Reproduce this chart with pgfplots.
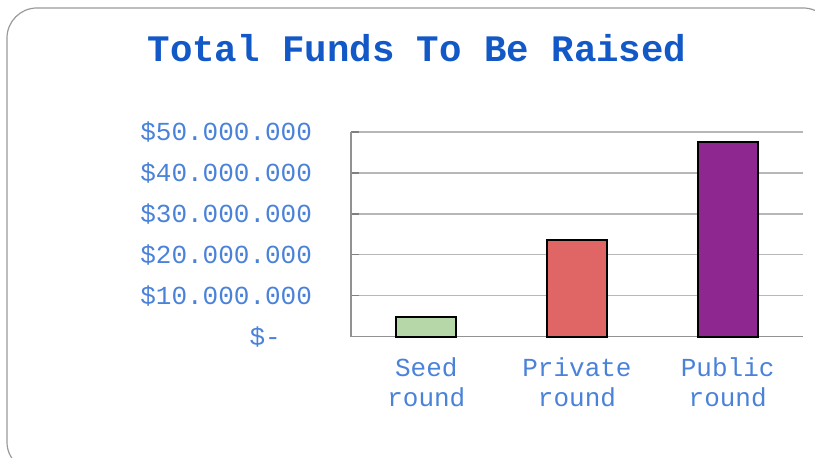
\documentclass[border=0pt]{standalone}
\usepackage{pgfplots}
\pgfplotsset{compat=1.18}
\usepackage{fontspec}
\setmainfont{Liberation Mono}
\definecolor{titleblue}{HTML}{1258C6}
\definecolor{tickblue}{HTML}{4A82DA}
\definecolor{seedc}{HTML}{B6D7A8}
\definecolor{privc}{HTML}{E06666}
\definecolor{pubc}{HTML}{8E278F}
\definecolor{gridc}{HTML}{B7B7B7}
\definecolor{framec}{HTML}{9A9A9A}
\begin{document}
\begin{tikzpicture}
\clip (0,0) rectangle (407.5pt,229pt);
\useasboundingbox (0,0) rectangle (407.5pt,229pt);
\draw[framec, line width=0.6pt, rounded corners=15pt] (3.5pt,225pt) rectangle (416.5pt,-7pt);
\node[font=\fontsize{18.7}{20}\selectfont\bfseries, text=titleblue] at (208.5pt,205pt) {Total Funds To Be Raised};
\begin{axis}[
  at={(175.5pt,60.65pt)}, anchor=south west,
  scale only axis, width=226pt, height=102.3pt,
  xmin=-0.5, xmax=2.5, ymin=0, ymax=50000000,
  axis x line*=bottom, axis y line*=left,
  axis line style={draw=gridc!80!black, line width=0.6pt},
  xtick={0,1,2},
  xticklabels={{Seed\\round},{Private\\round},{Public\\round}},
  ytick={0,10000000,20000000,30000000,40000000,50000000},
  yticklabels={\$-\phantom{00},\$10.000.000,\$20.000.000,\$30.000.000,\$40.000.000,\$50.000.000},
  scaled y ticks=false,
  ymajorgrids, grid style={draw=gridc, line width=0.6pt},
  major tick length=4pt, tick align=inside,
  xtick style={draw=none},
  ytick style={draw=gridc!70!black, line width=0.6pt},
  tick label style={font=\fontsize{13}{15}\selectfont, text=tickblue},
  xticklabel style={align=center, yshift=-3pt},
  yticklabel style={xshift=-16pt},
  ybar, bar width=30pt, bar shift=0pt,
  clip=false,
]
\addplot[fill=seedc, draw=black, line width=1pt] coordinates {(0,4750000)};
\addplot[fill=privc, draw=black, line width=1pt] coordinates {(1,23750000)};
\addplot[fill=pubc, draw=black, line width=1pt] coordinates {(2,47500000)};
\end{axis}
\end{tikzpicture}
\end{document}
